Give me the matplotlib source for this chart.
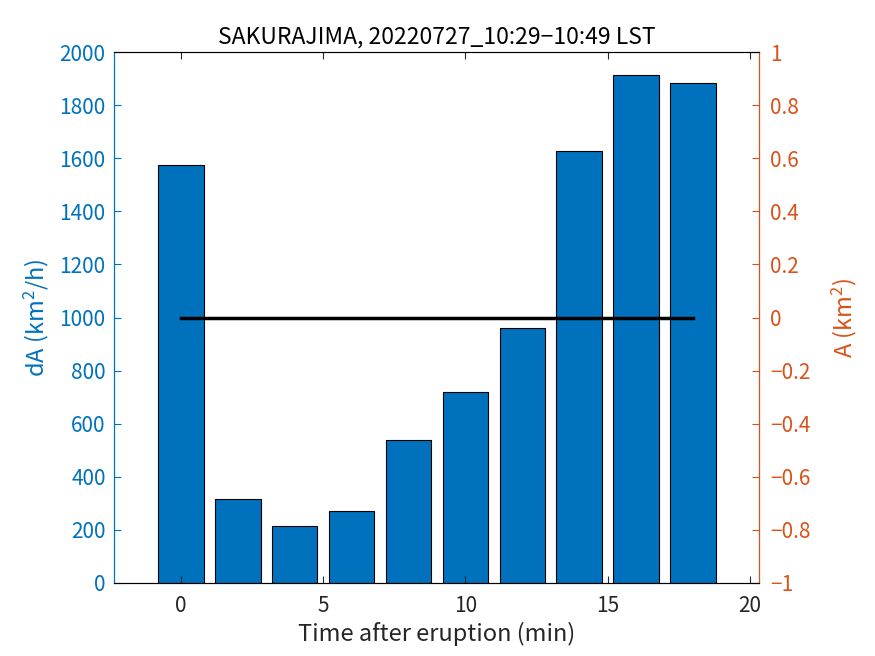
import matplotlib
matplotlib.use("Agg")
import matplotlib.pyplot as plt

plt.rcParams['font.family'] = ['Noto Sans CJK JP', 'DejaVu Sans']
plt.rcParams['mathtext.fontset'] = 'custom'
plt.rcParams['mathtext.rm'] = 'Noto Sans CJK JP'
plt.rcParams['mathtext.it'] = 'Noto Sans CJK JP'

# data
t = [0, 2, 4, 6, 8, 10, 12, 14, 16, 18]  # min
dA = [1574, 316, 215, 271, 539, 719, 960, 1627, 1913, 1883]  # km^2/h
A_t = [0, 18]
A = [0, 0]  # km^2

blue = '#0072BD'
orange = '#D95319'

fig = plt.figure(figsize=(8.75, 6.56), dpi=100)
ax = fig.add_axes([0.1303, 0.1113, 0.7371, 0.8094])
ax.bar(t, dA, width=1.6, color=blue, edgecolor='k', linewidth=0.8)
ax.set_xlim(-2.35, 20.32)
ax.set_ylim(0, 2000)
ax.set_yticks(range(0, 2001, 200))
ax.set_xticks([0, 5, 10, 15, 20])
ax.tick_params(axis='y', colors=blue, direction='in', labelsize=15, length=5, pad=6)
ax.tick_params(axis='x', direction='in', labelsize=15, top=True, length=5, colors='#262626', pad=9)
ax.spines['left'].set_color(blue)
ax.spines['top'].set_color('#262626')
ax.spines['bottom'].set_color('#262626')
ax.set_ylabel('dA (km$^2$/h)', color=blue, fontsize=17, labelpad=6)
ax.set_xlabel('Time after eruption (min)', fontsize=17, color='#262626', labelpad=3)
ax.set_title('SAKURAJIMA, 20220727_10:29\u221210:49 LST', fontsize=16.5, pad=6)

ax2 = ax.twinx()
ax2.plot(A_t, A, color='k', linewidth=2.5)
ax2.set_ylim(-1, 1)
ax2.set_yticks([i / 10 for i in range(-10, 11, 2)])
ax2.set_yticklabels(['\u22121', '\u22120.8', '\u22120.6', '\u22120.4', '\u22120.2', '0',
                     '0.2', '0.4', '0.6', '0.8', '1'])
ax2.tick_params(axis='y', colors=orange, direction='in', labelsize=15, length=5, pad=8)
ax2.spines['right'].set_color(orange)
ax2.spines['left'].set_color(blue)
ax2.set_ylabel('A (km$^2$)', color=orange, fontsize=17, labelpad=14)

fig.savefig('out.png', dpi=100)
